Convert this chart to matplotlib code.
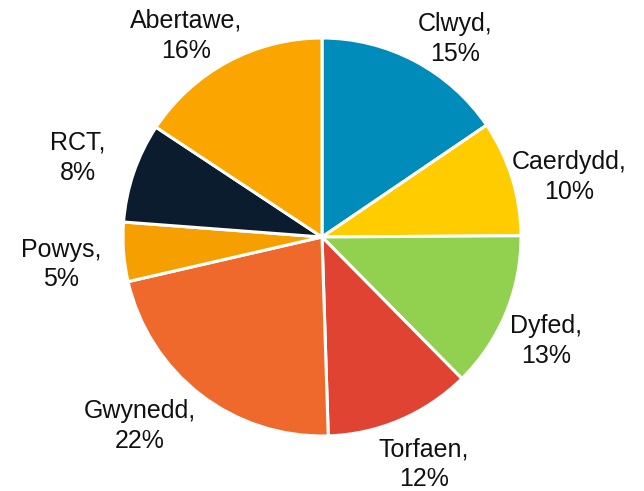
import matplotlib.pyplot as plt
import numpy as np

plt.rcParams['font.family'] = ['Liberation Sans', 'DejaVu Sans']

# data
names = ['Clwyd', 'Caerdydd', 'Dyfed', 'Torfaen', 'Gwynedd', 'Powys', 'RCT', 'Abertawe']
values = [15.5, 9.4, 12.7, 11.9, 21.9, 4.8, 8.1, 15.7]
pct_labels = ['15%', '10%', '13%', '12%', '22%', '5%', '8%', '16%']
colors = ['#008CBA', '#FFCC00', '#92D050', '#E04331', '#F0692C', '#F5A000', '#0B1C2E', '#FBA500']

# label placement: angle (deg) and distance (in radii) from the pie centre
label_ang = [56, 13.6, -24.9, -65.9, -134, -174, 162, 124]
label_dist = [1.20, 1.28, 1.24, 1.25, 1.32, 1.32, 1.29, 1.22]

fig = plt.figure(figsize=(6.44, 4.91), dpi=100)
ax = fig.add_axes([0, 0, 1, 1])

cx, cy, R = 322, 254, 199
wedges, texts = ax.pie(values, colors=colors, startangle=90, counterclock=False,
                       center=(cx, cy), radius=R,
                       wedgeprops=dict(edgecolor='white', linewidth=2.2))

for n, p, a, d in zip(names, pct_labels, label_ang, label_dist):
    a = np.deg2rad(a)
    ax.text(cx + d * R * np.cos(a), cy + d * R * np.sin(a), n + ',\n' + p,
            ha='center', va='center', fontsize=18, linespacing=1.3,
            color='#111111')

ax.set_xlim(0, 644)
ax.set_ylim(0, 491)
ax.set_aspect('equal')
ax.axis('off')
plt.savefig('out.png', dpi=100)
